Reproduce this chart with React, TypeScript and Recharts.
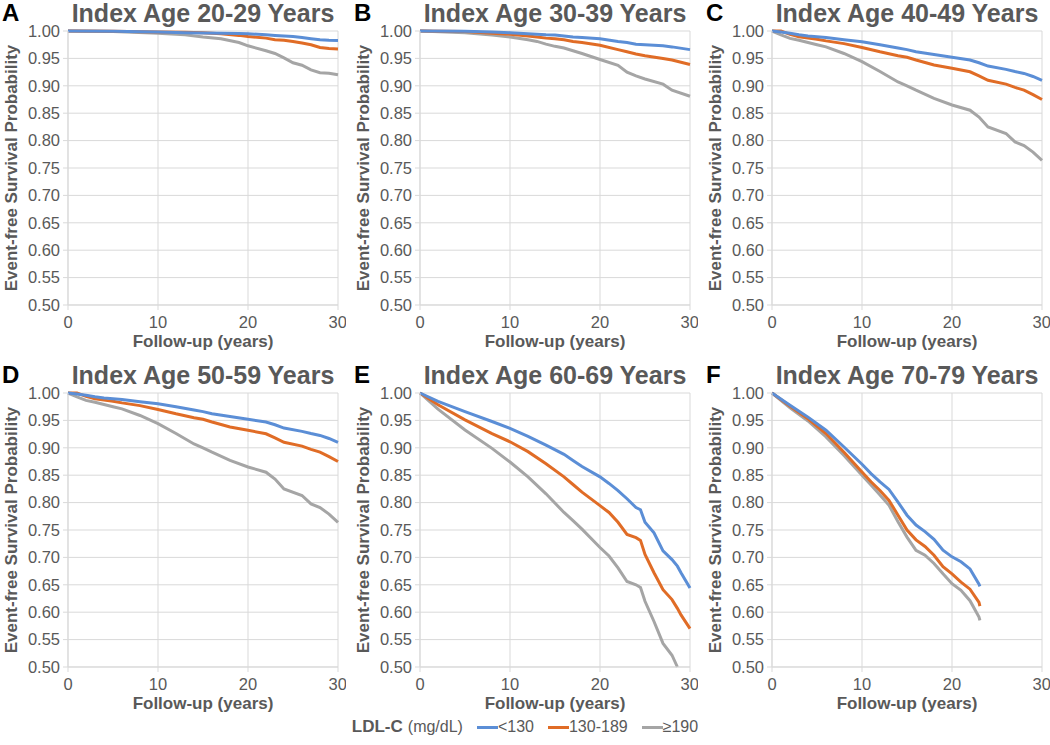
import React from "react";
import { LineChart, Line, XAxis, YAxis, CartesianGrid } from "recharts";

// LDL-C groups
const BLUE = "#5b8ed6";
const ORANGE = "#e06c26";
const GRAY = "#a5a5a5";
const INK = "#595959";
const GRID = "#d9d9d9";
const FONT = '"Liberation Sans", Arial, sans-serif';

const X_TICKS = [0, 10, 20, 30];
const Y_TICKS = [0.5, 0.55, 0.6, 0.65, 0.7, 0.75, 0.8, 0.85, 0.9, 0.95, 1.0];

// A: index age 20-29
const A_YEARS = [0, 5, 10, 13, 15, 17, 19, 20, 22, 23, 24, 25, 26, 27, 28, 29, 30];
const A_LT130 = [1, 0.9995, 0.998, 0.997, 0.9965, 0.996, 0.9955, 0.995, 0.993, 0.992, 0.991, 0.99, 0.988, 0.986, 0.984, 0.983, 0.9825];
const A_130_189 = [1, 0.9995, 0.998, 0.9975, 0.997, 0.995, 0.992, 0.99, 0.987, 0.984, 0.983, 0.981, 0.978, 0.975, 0.97, 0.968, 0.967];
const A_GE190 = [1, 0.999, 0.996, 0.993, 0.989, 0.986, 0.979, 0.973, 0.964, 0.959, 0.951, 0.942, 0.9375, 0.929, 0.924, 0.923, 0.92];

// B: index age 30-39
const B_YEARS = [0, 5, 8, 10, 12, 13, 14, 15, 16, 17, 18, 20, 22, 23, 24, 25, 27, 28, 30];
const B_LT130 = [1, 0.9995, 0.998, 0.997, 0.995, 0.994, 0.993, 0.9925, 0.991, 0.989, 0.988, 0.986, 0.981, 0.979, 0.976, 0.975, 0.973, 0.971, 0.966];
const B_130_189 = [1, 0.999, 0.996, 0.994, 0.991, 0.989, 0.987, 0.986, 0.984, 0.981, 0.979, 0.974, 0.966, 0.962, 0.958, 0.955, 0.95, 0.947, 0.939];
const B_GE190 = [1, 0.997, 0.9925, 0.989, 0.984, 0.981, 0.976, 0.972, 0.969, 0.964, 0.959, 0.948, 0.9375, 0.925, 0.918, 0.9125, 0.903, 0.892, 0.881];

// C and D: index ages 40-49 and 50-59 (curves drawn the same in the figure)
const CD_YEARS = [0, 1, 2, 3, 4, 5, 6, 8, 10, 12, 14, 15, 16, 18, 20, 22, 23, 24, 26, 27, 28, 29, 30];
const CD_LT130 = [1, 0.998, 0.9957, 0.993, 0.991, 0.9896, 0.988, 0.984, 0.9805, 0.975, 0.969, 0.966, 0.962, 0.957, 0.952, 0.947, 0.942, 0.936, 0.93, 0.926, 0.9226, 0.917, 0.91];
const CD_130_189 = [1, 1, 0.994, 0.9896, 0.987, 0.985, 0.982, 0.977, 0.97, 0.962, 0.955, 0.952, 0.947, 0.938, 0.932, 0.9256, 0.918, 0.91, 0.903, 0.897, 0.892, 0.884, 0.875];
const CD_GE190 = [1, 0.993, 0.9866, 0.983, 0.979, 0.975, 0.971, 0.959, 0.944, 0.926, 0.907, 0.9, 0.892, 0.877, 0.865, 0.8555, 0.843, 0.825, 0.813, 0.7976, 0.791, 0.779, 0.764];

// E: index age 60-69
const E_YEARS = [0, 2, 5, 8, 10, 12, 14, 16, 17, 18, 20, 21, 22, 23, 24, 24.5, 25, 26, 27, 28, 28.6, 29, 30];
const E_LT130 = [1, 0.9847, 0.966, 0.948, 0.9356, 0.921, 0.905, 0.888, 0.877, 0.866, 0.847, 0.835, 0.822, 0.807, 0.791, 0.787, 0.764, 0.745, 0.712, 0.696, 0.684, 0.672, 0.644];
const E_130_189 = [1, 0.9785, 0.951, 0.926, 0.911, 0.893, 0.871, 0.847, 0.833, 0.819, 0.7945, 0.782, 0.764, 0.742, 0.736, 0.731, 0.7055, 0.672, 0.641, 0.623, 0.607, 0.595, 0.57];
const E_GE190 = [1, 0.9706, 0.9325, 0.899, 0.874, 0.847, 0.816, 0.782, 0.767, 0.7515, 0.718, 0.7025, 0.681, 0.656, 0.65, 0.645, 0.62, 0.583, 0.543, 0.5215, 0.5, null, null];

// F: index age 70-79
const F_YEARS = [0, 2, 4, 6, 8, 10, 11, 12, 13, 14, 15, 16, 17, 18, 19, 20, 21, 22, 23, 23.1];
const F_LT130 = [1, 0.9775, 0.956, 0.932, 0.9015, 0.87, 0.853, 0.838, 0.824, 0.801, 0.777, 0.759, 0.747, 0.733, 0.713, 0.701, 0.692, 0.679, 0.651, 0.647];
const F_130_189 = [1, 0.9757, 0.953, 0.926, 0.892, 0.856, 0.838, 0.822, 0.804, 0.777, 0.75, 0.732, 0.72, 0.704, 0.683, 0.67, 0.655, 0.642, 0.618, 0.611];
const F_GE190 = [1, 0.973, 0.949, 0.92, 0.886, 0.85, 0.832, 0.814, 0.795, 0.765, 0.737, 0.713, 0.704, 0.689, 0.67, 0.652, 0.64, 0.621, 0.591, 0.585];

const LETTERS = ["A", "B", "C", "D", "E", "F"];
const TITLES = [
  "Index Age 20-29 Years",
  "Index Age 30-39 Years",
  "Index Age 40-49 Years",
  "Index Age 50-59 Years",
  "Index Age 60-69 Years",
  "Index Age 70-79 Years",
];
const YEARS = [A_YEARS, B_YEARS, CD_YEARS, CD_YEARS, E_YEARS, F_YEARS];
const LT130 = [A_LT130, B_LT130, CD_LT130, CD_LT130, E_LT130, F_LT130];
const MID = [A_130_189, B_130_189, CD_130_189, CD_130_189, E_130_189, F_130_189];
const GE190 = [A_GE190, B_GE190, CD_GE190, CD_GE190, E_GE190, F_GE190];

const LEGEND = [
  { label: "<130", color: BLUE },
  { label: "130-189", color: ORANGE },
  { label: "≥190", color: GRAY },
];

const W = 346;
const H = 350;
const PLOT_L = 68;
const PLOT_W = 270;
const PLOT_T = 31;
const PLOT_H = 274;

function Panel({ idx }: { idx: number }) {
  const left = (idx % 3) * 352;
  const top = Math.floor(idx / 3) * 362;
  const rows = YEARS[idx].map((t, i) => ({
    t,
    low: LT130[idx][i],
    mid: MID[idx][i],
    high: GE190[idx][i],
  }));
  const tick = { fontSize: 16.5, fill: INK, fontFamily: FONT };

  return (
    <div style={{ position: "absolute", left, top, width: W, height: H }}>
      <LineChart width={W} height={H} data={rows} margin={{ top: PLOT_T, right: 8, bottom: 21, left: 0 }}>
        <CartesianGrid stroke={GRID} />
        <XAxis
          type="number"
          dataKey="t"
          domain={[0, 30]}
          ticks={X_TICKS}
          height={24}
          tick={tick}
          tickSize={5}
          tickMargin={6}
          stroke={GRID}
        />
        <YAxis
          type="number"
          domain={[0.5, 1]}
          ticks={Y_TICKS}
          width={PLOT_L}
          tick={tick}
          tickSize={5}
          tickMargin={3}
          stroke={GRID}
          tickFormatter={(v: number) => v.toFixed(2)}
        />
        <Line dataKey="high" stroke={GRAY} strokeWidth={3} dot={false} isAnimationActive={false} type="linear" />
        <Line dataKey="mid" stroke={ORANGE} strokeWidth={3} dot={false} isAnimationActive={false} type="linear" />
        <Line dataKey="low" stroke={BLUE} strokeWidth={3} dot={false} isAnimationActive={false} type="linear" />
      </LineChart>

      <div style={{ position: "absolute", left: 2, top: 1, fontSize: 24, lineHeight: "24px", fontWeight: "bold", color: "#000" }}>
        {LETTERS[idx]}
      </div>
      <div
        style={{
          position: "absolute",
          left: PLOT_L - 10,
          width: PLOT_W + 20,
          top: 1,
          fontSize: 25,
          lineHeight: "25px",
          fontWeight: "bold",
          color: INK,
          textAlign: "center",
          whiteSpace: "nowrap",
        }}
      >
        {TITLES[idx]}
      </div>
      <div
        style={{
          position: "absolute",
          left: 12 - PLOT_H / 2,
          top: PLOT_T + PLOT_H / 2 - 10,
          width: PLOT_H,
          height: 20,
          lineHeight: "20px",
          fontSize: 17,
          fontWeight: "bold",
          color: INK,
          textAlign: "center",
          whiteSpace: "nowrap",
          transform: "rotate(-90deg)",
        }}
      >
        Event-free Survival Probability
      </div>
      <div
        style={{
          position: "absolute",
          left: PLOT_L,
          width: PLOT_W,
          top: 333,
          height: 17,
          lineHeight: "17px",
          fontSize: 17,
          fontWeight: "bold",
          color: INK,
          textAlign: "center",
        }}
      >
        Follow-up (years)
      </div>
    </div>
  );
}

export default function App() {
  return (
    <div
      style={{
        position: "absolute",
        left: 0,
        top: 0,
        width: 1050,
        height: 745,
        background: "#fff",
        fontFamily: FONT,
        overflow: "hidden",
      }}
    >
      {LETTERS.map((_, i) => (
        <Panel key={i} idx={i} />
      ))}
      <div
        style={{
          position: "absolute",
          left: 0,
          top: 715,
          width: 1050,
          height: 24,
          lineHeight: "24px",
          display: "flex",
          justifyContent: "center",
          alignItems: "center",
          color: INK,
          whiteSpace: "nowrap",
        }}
      >
        <span style={{ fontSize: 17, fontWeight: "bold" }}>LDL-C</span>
        <span style={{ fontSize: 16, marginLeft: 5 }}>(mg/dL)</span>
        {LEGEND.map((item) => (
          <span key={item.label} style={{ display: "inline-flex", alignItems: "center", marginLeft: 14 }}>
            <span style={{ display: "inline-block", width: 21, height: 3, background: item.color }} />
            <span style={{ fontSize: 16 }}>{item.label}</span>
          </span>
        ))}
      </div>
    </div>
  );
}
